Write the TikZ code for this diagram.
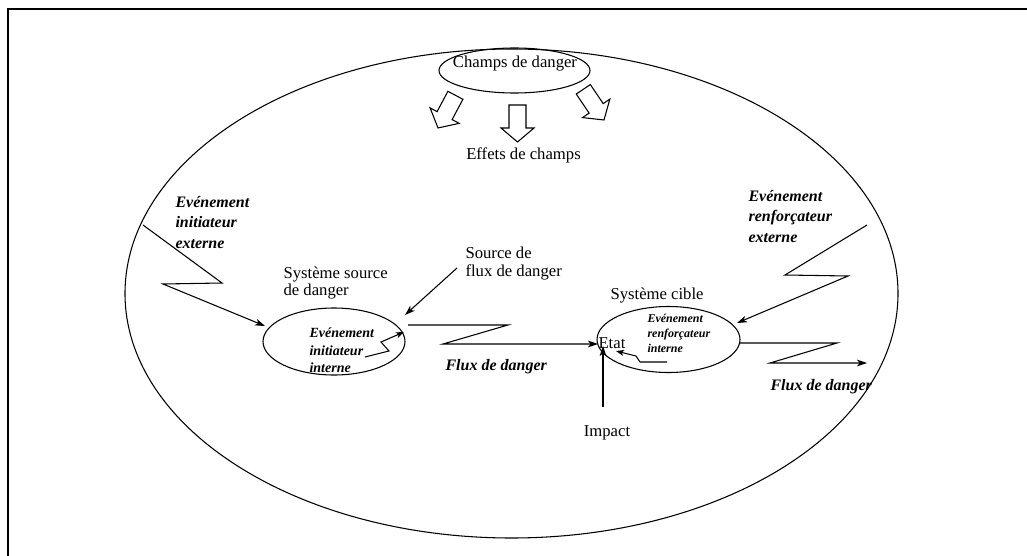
\documentclass[tikz,border=0pt]{standalone}
\usepackage{fontspec}
\setmainfont{Liberation Serif}
\usetikzlibrary{arrows.meta,shapes.geometric}
\begin{document}
\begin{tikzpicture}[x=0.75pt,y=-0.75pt,line width=0.8pt,
  conn/.style={-{Stealth[length=7.5pt,width=5pt,inset=2pt]}},
  smallconn/.style={-{Stealth[length=6pt,width=4.5pt,inset=1.6pt]}},
  plain/.style={font=\fontsize{12.5}{14}\selectfont,inner sep=0pt,align=left},
  emph/.style={font=\fontsize{12}{15.4}\selectfont\bfseries\itshape,inner sep=0pt,align=left},
  emphsmall/.style={font=\fontsize{10.5}{13.1}\selectfont\bfseries\itshape,inner sep=0pt,align=left},
  emphtiny/.style={font=\fontsize{9}{11.25}\selectfont\bfseries\itshape,inner sep=0pt,align=left},
  oval/.style={draw,ellipse,inner sep=0pt},
  blockarrow/.pic={\draw[fill=white,line width=0.8pt]
    (-8.5,0) -- (8.5,0) -- (8.5,23) -- (16.5,23) -- (0,37) -- (-16.5,23) -- (-8.5,23) -- cycle;}
]
\useasboundingbox (0,0) rectangle (1027,556);

% frame
\draw[line width=1.5pt] (1027,9) -- (8,9) -- (8,556);

% danger field
\node[oval,minimum width=579.75pt,minimum height=366.75pt] (field) at (511.5,293.5) {};
\node[oval,minimum width=113.25pt,minimum height=33.75pt] (champs) at (514.5,70.5) {};
\node[plain] (champsT) at (515,64) {Champs de danger};

% field effects
\pic[rotate=-28] at (455.4,95.3) {blockarrow};
\pic at (517.5,105) {blockarrow};
\pic[rotate=34] at (583.3,89.3) {blockarrow};
\node[plain] (effets) at (523.5,155) {Effets de champs};

% source system
\node[emph,anchor=west] (initext) at (175,222.5) {Evénement\\initiateur\\externe};
\node[plain,anchor=west,font=\fontsize{12.5}{13.3}\selectfont] (srcT) at (283,283) {Système source\\de danger};
\node[oval,minimum width=106.5pt,minimum height=50.25pt] (src) at (334,341.5) {};
\node[emphsmall,anchor=west] (iniint) at (309,350.5) {Evénement\\initiateur\\interne};
\node[plain,anchor=west] (srcflux) at (465,263.5) {Source de\\flux de danger};
\node[emph,anchor=west] (flux1) at (445,367) {Flux de danger};

% target system
\node[plain,anchor=west] (cibleT) at (610,296) {Système cible};
\node[oval,minimum width=107.25pt,minimum height=49.5pt] (cible) at (668.5,339.5) {};
\node[plain,anchor=west] (etat) at (598,343) {Etat};
\node[emphtiny,anchor=west] (renfint) at (647,333) {Evénement\\renforçateur\\interne};
\node[emph,anchor=west] (renfext) at (748,216.5) {Evénement\\renforçateur\\externe};
\node[emph,anchor=west] (flux2) at (770,387) {Flux de danger};
\node[plain] (impact) at (607,433) {Impact};

% connector points
\coordinate (ie0) at (143,225);
\coordinate (ie1) at (222,283);
\coordinate (ie2) at (163,284);
\coordinate (srcIn) at (265,326);
\coordinate (sf0) at (457,268);
\coordinate (sfTip) at (405,315);
\coordinate (ii0) at (365,357);
\coordinate (ii1) at (389,351);
\coordinate (ii2) at (381,342);
\coordinate (iiTip) at (404,332);
\coordinate (f0) at (408,325);
\coordinate (f1) at (508,325);
\coordinate (f2) at (443,344);
\coordinate (etatIn) at (598,344);
\coordinate (im0) at (603,407);
\coordinate (imTip) at (603,346);
\coordinate (re0) at (867,225);
\coordinate (re1) at (785,275);
\coordinate (re2) at (848,276);
\coordinate (reTip) at (737,323);
\coordinate (ri0) at (667,362);
\coordinate (ri1) at (640,362);
\coordinate (ri2) at (636,356);
\coordinate (riTip) at (616,351);
\coordinate (g0) at (740,343);
\coordinate (g1) at (837,343);
\coordinate (g2) at (770,363);
\coordinate (gTip) at (867,363);

% connectors
\draw[conn] (ie0) -- (ie1) -- (ie2) -- (srcIn);
\draw[conn] (sf0) -- (sfTip);
\draw[smallconn] (ii0) -- (ii1) -- (ii2) -- (iiTip);
\draw[conn] (f0) -- (f1) -- (f2) -- (etatIn);
\draw[conn] (im0) -- (imTip);
\draw[conn] (re0) -- (re1) -- (re2) -- (reTip);
\draw[smallconn] (ri0) -- (ri1) -- (ri2) -- (riTip);
\draw[conn] (g0) -- (g1) -- (g2) -- (gTip);
\end{tikzpicture}
\end{document}
